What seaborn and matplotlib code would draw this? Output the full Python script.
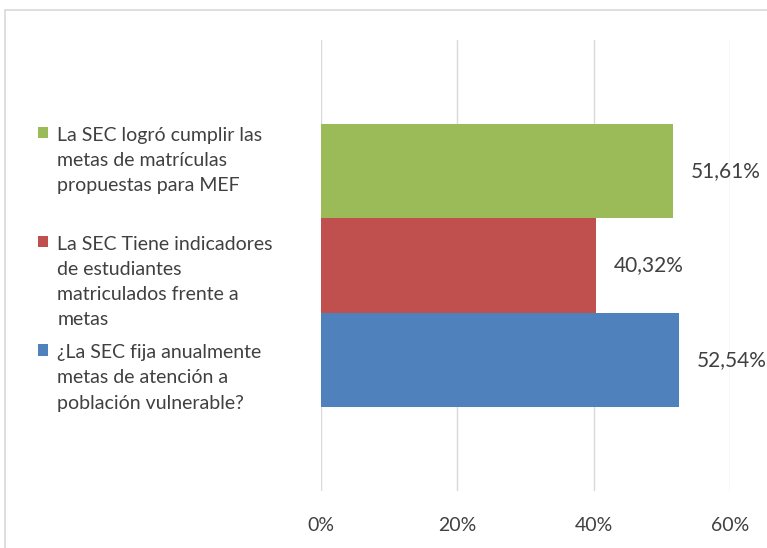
import pandas as pd
import matplotlib.pyplot as plt
import seaborn as sns
from matplotlib.patches import Rectangle
from matplotlib.ticker import FuncFormatter

# data
series = [
    'La SEC logró cumplir las\nmetas de matrículas\npropuestas para MEF',
    'La SEC Tiene indicadores\nde estudiantes\nmatriculados frente a\nmetas',
    '¿La SEC fija anualmente\nmetas de atención a\npoblación vulnerable?',
]
values = [51.61, 40.32, 52.54]
value_labels = ['51,61%', '40,32%', '52,54%']
colors = ['#9BBB59', '#C0504D', '#4F81BD']
x_ticks = [0, 20, 40, 60]

TEXT = '#404040'

sns.set_theme(style='white')
plt.rcParams['font.family'] = ['Lato', 'DejaVu Sans']

df = pd.DataFrame({'cat': ['x'] * len(series), 'serie': series, 'valor': values})

fig = plt.figure(figsize=(7.67, 5.48), dpi=100)
ax = fig.add_axes([321 / 767, 1 - 491 / 548, (730 - 321) / 767, (491 - 40) / 548])

sns.barplot(data=df, x='valor', y='cat', hue='serie', hue_order=series,
            palette=colors, orient='h', width=0.627, gap=0, saturation=1,
            linewidth=0, ax=ax)

ax.set_xlim(0, 60)
ax.set_ylim(0.5, -0.5)
ax.set_xticks(x_ticks)
ax.xaxis.set_major_formatter(FuncFormatter(lambda v, p: f'{v:.0f}%'))
ax.tick_params(axis='x', length=0, pad=19, labelsize=14, labelcolor=TEXT)
ax.set_yticks([])
ax.set_xlabel('')
ax.set_ylabel('')
ax.grid(axis='x', color='#D9D9D9', linewidth=1)
ax.set_axisbelow(True)
for s in ax.spines.values():
    s.set_visible(False)

# value labels at the end of each bar
for cont, lab in zip(ax.containers, value_labels):
    ax.bar_label(cont, labels=[lab], padding=13, fontsize=15, color=TEXT)

# legend on the left, markers on the first line of each entry
handles, labels = ax.get_legend_handles_labels()
labels = [labels[0] + '\n'] + labels[1:]  # extra room after the first entry, like Excel
leg = ax.legend(handles, labels, loc='upper left',
                bbox_to_anchor=(30 / 767, 1 - 119 / 548),
                bbox_transform=fig.transFigure, frameon=False, fontsize=14,
                labelcolor=TEXT, handlelength=0.55, handleheight=0.55,
                handletextpad=0.45, labelspacing=0.82, borderaxespad=0)
for t in leg.get_texts():
    t.set_linespacing(1.59)
for col in leg._legend_handle_box.get_children():
    for item in col.get_children():
        item.align = 'top'

# chart border
fig.patches.append(Rectangle((5 / 767, -0.05), 1.0, 1 - 10 / 548 + 0.05,
                             transform=fig.transFigure, fill=False,
                             edgecolor='#D9D9D9', linewidth=1.2))

fig.savefig('out.png', dpi=100)
